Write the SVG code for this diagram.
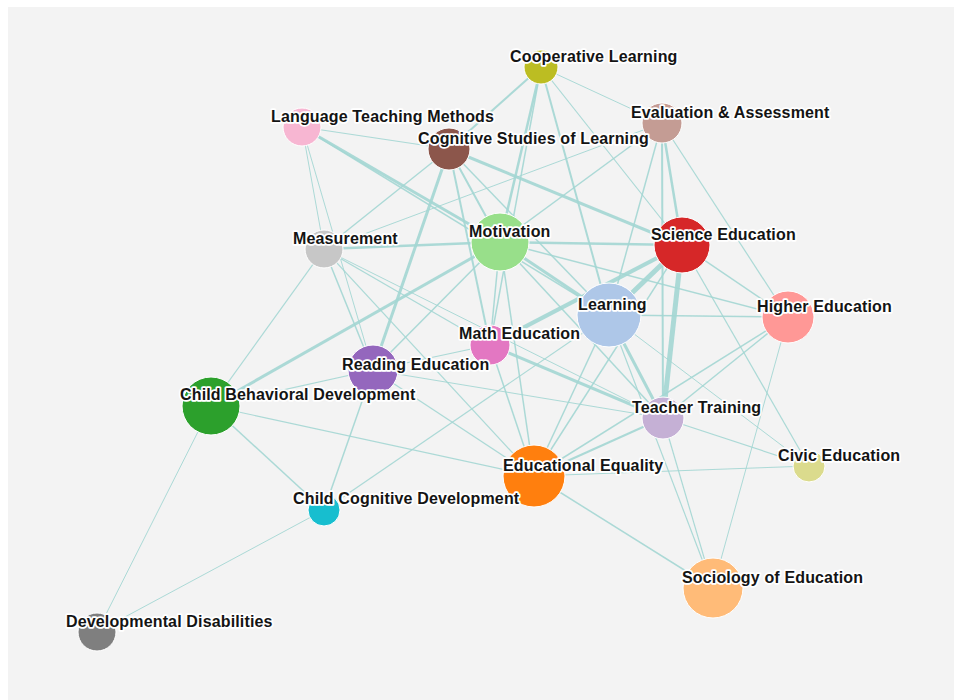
<svg xmlns="http://www.w3.org/2000/svg" width="954" height="700" viewBox="0 0 954 700">
<style>
.l{stroke:#a3d6d3;stroke-opacity:.9;fill:none}
.n circle{stroke:#fff;stroke-width:1}
.n text{font-family:"Liberation Sans",Arial,Helvetica,sans-serif;font-weight:bold;font-size:16px;letter-spacing:0.15px;fill:#141414;stroke:#fff;stroke-width:3.5px;stroke-linejoin:round;paint-order:stroke}
</style>
<rect x="0" y="0" width="954" height="700" fill="#fff"/>
<rect x="8" y="7" width="946" height="693" fill="#f3f3f3"/>
<g id="links">
<line class="l" x1="97" y1="632" x2="211" y2="406" stroke-width="1"/>
<line class="l" x1="97" y1="632" x2="324" y2="510" stroke-width="1"/>
<line class="l" x1="324" y1="510" x2="211" y2="406" stroke-width="1.5"/>
<line class="l" x1="324" y1="510" x2="373" y2="370" stroke-width="1.5"/>
<line class="l" x1="324" y1="510" x2="609" y2="315" stroke-width="1.2"/>
<line class="l" x1="211" y1="406" x2="324" y2="249" stroke-width="1.2"/>
<line class="l" x1="211" y1="406" x2="500" y2="242" stroke-width="3"/>
<line class="l" x1="211" y1="406" x2="373" y2="370" stroke-width="1.2"/>
<line class="l" x1="211" y1="406" x2="534" y2="476" stroke-width="1.2"/>
<line class="l" x1="302" y1="127" x2="324" y2="249" stroke-width="1"/>
<line class="l" x1="302" y1="127" x2="373" y2="370" stroke-width="1"/>
<line class="l" x1="302" y1="127" x2="449" y2="149" stroke-width="1.2"/>
<line class="l" x1="302" y1="127" x2="500" y2="242" stroke-width="3"/>
<line class="l" x1="302" y1="127" x2="609" y2="315" stroke-width="1.5"/>
<line class="l" x1="324" y1="249" x2="500" y2="242" stroke-width="2.5"/>
<line class="l" x1="324" y1="249" x2="449" y2="149" stroke-width="1.5"/>
<line class="l" x1="324" y1="249" x2="662" y2="123" stroke-width="1"/>
<line class="l" x1="324" y1="249" x2="490" y2="345" stroke-width="1.2"/>
<line class="l" x1="324" y1="249" x2="663" y2="418" stroke-width="1"/>
<line class="l" x1="324" y1="249" x2="534" y2="476" stroke-width="1.2"/>
<line class="l" x1="324" y1="249" x2="373" y2="370" stroke-width="1.5"/>
<line class="l" x1="541" y1="67" x2="449" y2="149" stroke-width="2"/>
<line class="l" x1="541" y1="67" x2="500" y2="242" stroke-width="2.5"/>
<line class="l" x1="541" y1="67" x2="490" y2="345" stroke-width="1.5"/>
<line class="l" x1="541" y1="67" x2="609" y2="315" stroke-width="2"/>
<line class="l" x1="541" y1="67" x2="682" y2="245" stroke-width="1.2"/>
<line class="l" x1="541" y1="67" x2="662" y2="123" stroke-width="1"/>
<line class="l" x1="449" y1="149" x2="500" y2="242" stroke-width="2"/>
<line class="l" x1="449" y1="149" x2="490" y2="345" stroke-width="2"/>
<line class="l" x1="449" y1="149" x2="373" y2="370" stroke-width="3"/>
<line class="l" x1="449" y1="149" x2="682" y2="245" stroke-width="3"/>
<line class="l" x1="449" y1="149" x2="609" y2="315" stroke-width="1.5"/>
<line class="l" x1="662" y1="123" x2="500" y2="242" stroke-width="1.5"/>
<line class="l" x1="662" y1="123" x2="609" y2="315" stroke-width="1.5"/>
<line class="l" x1="662" y1="123" x2="682" y2="245" stroke-width="2.5"/>
<line class="l" x1="662" y1="123" x2="663" y2="418" stroke-width="2"/>
<line class="l" x1="662" y1="123" x2="788" y2="317" stroke-width="1.2"/>
<line class="l" x1="500" y1="242" x2="682" y2="245" stroke-width="2.5"/>
<line class="l" x1="500" y1="242" x2="609" y2="315" stroke-width="3"/>
<line class="l" x1="500" y1="242" x2="490" y2="345" stroke-width="1.5"/>
<line class="l" x1="500" y1="242" x2="534" y2="476" stroke-width="1.5"/>
<line class="l" x1="500" y1="242" x2="373" y2="370" stroke-width="1.5"/>
<line class="l" x1="500" y1="242" x2="788" y2="317" stroke-width="1.5"/>
<line class="l" x1="500" y1="242" x2="663" y2="418" stroke-width="1.5"/>
<line class="l" x1="682" y1="245" x2="609" y2="315" stroke-width="5"/>
<line class="l" x1="682" y1="245" x2="490" y2="345" stroke-width="4"/>
<line class="l" x1="682" y1="245" x2="663" y2="418" stroke-width="5"/>
<line class="l" x1="682" y1="245" x2="788" y2="317" stroke-width="1.5"/>
<line class="l" x1="682" y1="245" x2="534" y2="476" stroke-width="1.5"/>
<line class="l" x1="682" y1="245" x2="809" y2="466" stroke-width="1.2"/>
<line class="l" x1="609" y1="315" x2="788" y2="317" stroke-width="1.5"/>
<line class="l" x1="609" y1="315" x2="663" y2="418" stroke-width="3"/>
<line class="l" x1="609" y1="315" x2="534" y2="476" stroke-width="1.5"/>
<line class="l" x1="609" y1="315" x2="713" y2="588" stroke-width="1.2"/>
<line class="l" x1="609" y1="315" x2="809" y2="466" stroke-width="1"/>
<line class="l" x1="490" y1="345" x2="663" y2="418" stroke-width="3"/>
<line class="l" x1="490" y1="345" x2="534" y2="476" stroke-width="1.5"/>
<line class="l" x1="490" y1="345" x2="373" y2="370" stroke-width="1.2"/>
<line class="l" x1="663" y1="418" x2="788" y2="317" stroke-width="1.5"/>
<line class="l" x1="663" y1="418" x2="534" y2="476" stroke-width="2"/>
<line class="l" x1="663" y1="418" x2="713" y2="588" stroke-width="1.2"/>
<line class="l" x1="663" y1="418" x2="809" y2="466" stroke-width="1.2"/>
<line class="l" x1="788" y1="317" x2="713" y2="588" stroke-width="1"/>
<line class="l" x1="788" y1="317" x2="534" y2="476" stroke-width="1.5"/>
<line class="l" x1="534" y1="476" x2="713" y2="588" stroke-width="1.5"/>
<line class="l" x1="534" y1="476" x2="809" y2="466" stroke-width="1"/>
<line class="l" x1="373" y1="370" x2="663" y2="418" stroke-width="1"/>
<line class="l" x1="373" y1="370" x2="534" y2="476" stroke-width="1.2"/>
</g>
<g id="n-coop" class="n"><circle cx="541" cy="67" r="17" fill="#bcbd22"/><text x="510" y="62">Cooperative Learning</text></g>
<g id="n-lang" class="n"><circle cx="302" cy="127" r="19" fill="#f7b6d2"/><text x="271" y="122">Language Teaching Methods</text></g>
<g id="n-eval" class="n"><circle cx="662" cy="123" r="20" fill="#c49c94"/><text x="631" y="118">Evaluation &amp; Assessment</text></g>
<g id="n-cog" class="n"><circle cx="449" cy="149" r="21" fill="#8c564b"/><text x="418" y="144">Cognitive Studies of Learning</text></g>
<g id="n-meas" class="n"><circle cx="324" cy="249" r="19" fill="#c7c7c7"/><text x="293" y="244">Measurement</text></g>
<g id="n-mot" class="n"><circle cx="500" cy="242" r="29" fill="#98df8a"/><text x="469" y="237">Motivation</text></g>
<g id="n-sci" class="n"><circle cx="682" cy="245" r="28" fill="#d62728"/><text x="651" y="240">Science Education</text></g>
<g id="n-learn" class="n"><circle cx="609" cy="315" r="32" fill="#aec7e8"/><text x="578" y="310">Learning</text></g>
<g id="n-higher" class="n"><circle cx="788" cy="317" r="26" fill="#ff9896"/><text x="757" y="312">Higher Education</text></g>
<g id="n-math" class="n"><circle cx="490" cy="345" r="20" fill="#e377c2"/><text x="459" y="339">Math Education</text></g>
<g id="n-read" class="n"><circle cx="373" cy="370" r="25" fill="#9467bd"/><text x="342" y="370">Reading Education</text></g>
<g id="n-cbd" class="n"><circle cx="211" cy="406" r="29" fill="#2ca02c"/><text x="180" y="400">Child Behavioral Development</text></g>
<g id="n-teach" class="n"><circle cx="663" cy="418" r="21" fill="#c5b0d5"/><text x="632" y="413">Teacher Training</text></g>
<g id="n-civic" class="n"><circle cx="809" cy="466" r="16" fill="#dbdb8d"/><text x="778" y="461">Civic Education</text></g>
<g id="n-ee" class="n"><circle cx="534" cy="476" r="31" fill="#ff7f0e"/><text x="503" y="471">Educational Equality</text></g>
<g id="n-ccd" class="n"><circle cx="324" cy="510" r="16" fill="#17becf"/><text x="293" y="504">Child Cognitive Development</text></g>
<g id="n-soc" class="n"><circle cx="713" cy="588" r="30" fill="#ffbb78"/><text x="682" y="583">Sociology of Education</text></g>
<g id="n-dd" class="n"><circle cx="97" cy="632" r="19" fill="#7f7f7f"/><text x="66" y="627">Developmental Disabilities</text></g>
</svg>
